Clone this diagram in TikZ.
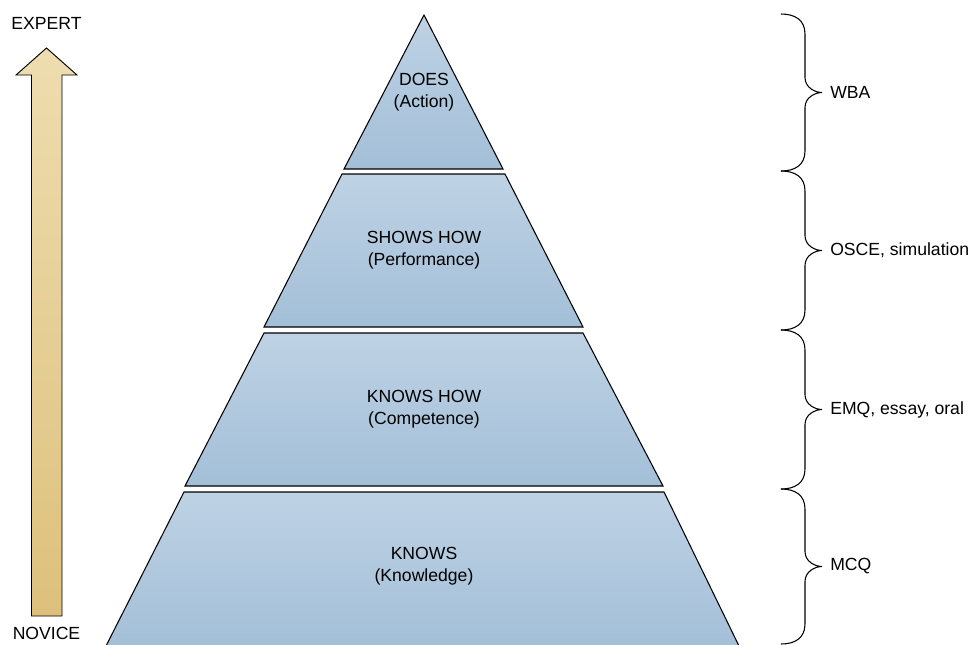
\documentclass[tikz,border=0pt]{standalone}
\usepackage{fontspec}
\setmainfont{Liberation Sans}
\definecolor{layertop}{HTML}{BED2E4}
\definecolor{layerbot}{HTML}{A3BFD8}
\definecolor{arrtop}{HTML}{EEDDB0}
\definecolor{arrbot}{HTML}{DDC07C}
\tikzset{
  layer/.style={draw=black, line width=0.8pt, line join=miter, top color=layertop, bottom color=layerbot},
  layertext/.style={align=center, font=\fontsize{13.2}{16.5}\selectfont, inner sep=0pt},
  sidetext/.style={anchor=west, font=\fontsize{13.2}{16.5}\selectfont, inner sep=0pt},
  endtext/.style={anchor=base, font=\fontsize{13.2}{16.5}\selectfont, inner sep=0pt},
  bracestyle/.style={draw=black, line width=0.8pt},
  arrowshape/.style={draw=black, line width=0.7pt, top color=arrtop, bottom color=arrbot}
}
\begin{document}
\begin{tikzpicture}[x=0.75pt, y=-0.75pt]
\useasboundingbox (0,0) rectangle (972,644);
% arrow
\path[arrowshape] (46.5,48) -- (77,75) -- (62,75) -- (62,616) -- (31.5,616) -- (31.5,75) -- (16,75) -- cycle;
\node[endtext] (expert) at (46.5,29) {EXPERT};
\node[endtext] (novice) at (46.5,639) {NOVICE};
% pyramid
\path[layer] (424,15) -- (503,169) -- (344,169) -- cycle;
\node[layertext] (does) at (424,92) {DOES\\(Action)};
\path[layer] (342,174) -- (505,174) -- (583,327) -- (264,327) -- cycle;
\node[layertext] (shows) at (424,250.5) {SHOWS HOW\\(Performance)};
\path[layer] (264,333) -- (583,333) -- (663,486) -- (185,486) -- cycle;
\node[layertext] (knowshow) at (424,409.5) {KNOWS HOW\\(Competence)};
\path[layer] (184,492) -- (664,492) -- (739.5,647) -- (105.5,647) -- cycle;
\node[layertext] (knows) at (424,566.5) {KNOWS\\(Knowledge)};
% braces
\foreach \t/\b/\lab/\nm in {14/171/WBA/wba, 171/330/{OSCE, simulation}/osce, 330/489/{EMQ, essay, oral}/emq, 489/644/MCQ/mcq}{
  \pgfmathsetmacro{\m}{(\t+\b)/2}
  \draw[bracestyle] (781,\t) .. controls (795,\t) and (805,\t+6) .. (805,\t+20)
    -- (805,\m-15) .. controls (805,\m-5) and (815,\m) .. (822,\m)
    .. controls (815,\m) and (805,\m+5) .. (805,\m+15)
    -- (805,\b-20) .. controls (805,\b-6) and (795,\b) .. (781,\b);
  \node[sidetext] (\nm) at (830,\m) {\lab};
}
\end{tikzpicture}
\end{document}
